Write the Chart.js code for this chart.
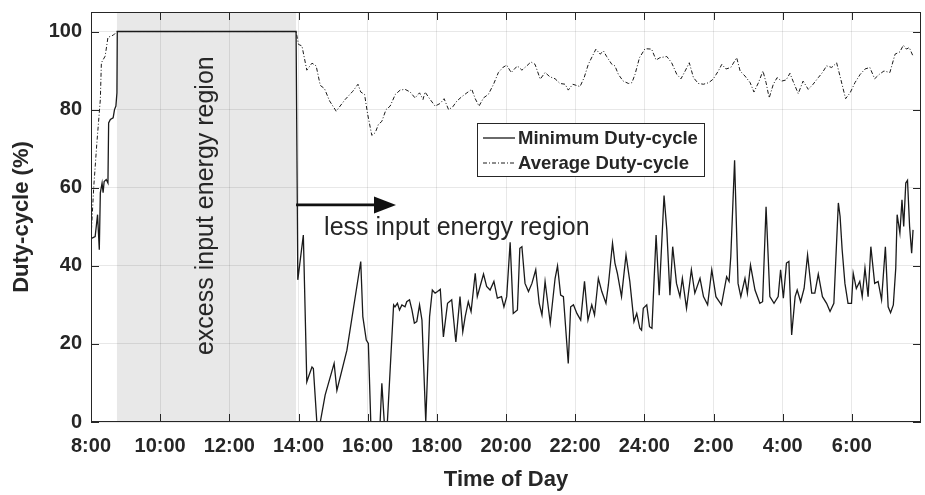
<!DOCTYPE html>
<html>
<head>
<meta charset="utf-8">
<script src="https://cdn.jsdelivr.net/npm/chart.js@4.4.1/dist/chart.umd.min.js"></script>
<style>
  html, body { margin: 0; padding: 0; background: #ffffff; }
  #wrap { width: 925px; height: 495px; }
</style>
</head>
<body>
<div id="wrap"><canvas id="c" width="925" height="495"></canvas></div>
<script>
const FONT = "'Liberation Sans', Arial, Helvetica, sans-serif";
const INK = '#262626';

// Time is given in hours after 8:00 (0 = 8:00, 24 = 8:00 next day)
const minTime = [
  0.00, 0.03, 0.12, 0.19, 0.24, 0.27, 0.32, 0.35, 0.38, 0.44, 0.49, 0.51, 0.56, 0.64, 0.68, 0.72, 0.75, 0.76,
  5.93, 5.98, 6.14, 6.24, 6.29, 6.39, 6.43, 6.53, 6.63, 6.77, 7.03, 7.11, 7.40, 7.80, 7.86, 7.96, 8.02, 8.09,
  8.36, 8.41, 8.48, 8.57, 8.75, 8.79, 8.86, 8.92, 8.99, 9.08, 9.13, 9.21, 9.28, 9.35, 9.42, 9.50, 9.57, 9.68,
  9.79, 9.87, 9.95, 10.02, 10.10, 10.19, 10.31, 10.43, 10.55, 10.67, 10.75, 10.82, 10.91, 10.99, 11.11, 11.17,
  11.25, 11.35, 11.44, 11.54, 11.65, 11.75, 11.87, 11.94, 12.02, 12.12, 12.21, 12.33, 12.40, 12.46, 12.55,
  12.65, 12.75, 12.86, 12.96, 13.04, 13.13, 13.28, 13.42, 13.49, 13.58, 13.66, 13.80, 13.87, 13.95, 14.05,
  14.16, 14.27, 14.37, 14.48, 14.56, 14.67, 14.77, 14.89, 14.96, 15.08, 15.15, 15.22, 15.34, 15.47, 15.58,
  15.70, 15.78, 15.87, 15.92, 15.97, 16.07, 16.15, 16.22, 16.34, 16.43, 16.57, 16.65, 16.74, 16.82, 16.93,
  17.03, 17.10, 17.22, 17.36, 17.46, 17.61, 17.71, 17.83, 17.95, 18.07, 18.23, 18.38, 18.45, 18.50, 18.61,
  18.71, 18.79, 18.91, 18.98, 19.07, 19.20, 19.34, 19.42, 19.52, 19.63, 19.75, 19.87, 19.94, 20.02, 20.11,
  20.18, 20.26, 20.36, 20.42, 20.52, 20.62, 20.72, 20.84, 20.93, 21.03, 21.15, 21.27, 21.37, 21.48, 21.61,
  21.66, 21.72, 21.80, 21.89, 21.99, 22.04, 22.13, 22.23, 22.30, 22.38, 22.47, 22.55, 22.66, 22.76, 22.86,
  22.97, 23.05, 23.12, 23.20, 23.27, 23.31, 23.39, 23.45, 23.50, 23.56, 23.61, 23.67, 23.73, 23.77
];
const minDuty = [
  47.0, 47.1, 47.5, 53.1, 44.1, 58.7, 61.2, 58.7, 61.6, 62.1, 61.2, 76.6, 77.5, 77.9, 80.0, 80.9, 84.3, 100,
  100, 36.4, 47.9, 10.3, 11.6, 14.1, 13.7, 0, 0, 6.9, 15.0, 8.1, 18.4, 41.1, 27.0, 21.0, 20.1, 0,
  0, 9.9, 0, 0, 30.0, 29.5, 30.4, 28.7, 30.0, 29.5, 30.8, 31.3, 28.7, 25.3, 25.7, 30.0, 26.1, 0,
  27.0, 33.8, 33.0, 33.4, 34.0, 21.8, 30.4, 31.3, 20.5, 32.1, 23.1, 27.0, 30.8, 28.3, 38.1, 32.1,
  34.7, 37.9, 34.7, 33.8, 36.0, 31.7, 32.1, 29.5, 32.1, 46.0, 27.8, 28.7, 44.5, 44.9, 35.5,
  33.4, 35.5, 39.0, 30.4, 27.4, 36.0, 25.3, 36.8, 40.0, 32.5, 32.1, 15.0, 29.5, 30.0, 27.8,
  26.1, 36.0, 26.1, 30.0, 27.4, 36.8, 33.4, 30.4, 35.1, 45.8, 40.7, 38.1, 32.1, 42.8, 36.0,
  25.7, 27.8, 24.0, 23.5, 29.1, 30.0, 24.4, 24.0, 47.9, 32.5, 58.0, 49.2, 32.5, 44.9, 35.5,
  32.1, 36.8, 29.1, 39.0, 33.0, 36.8, 32.1, 30.0, 39.0, 32.1, 30.0, 37.2, 36.0, 42.4, 67.0,
  35.5, 32.1, 36.8, 33.0, 40.2, 33.8, 30.4, 30.8, 55.1, 32.1, 30.4, 32.1, 39.0, 31.7, 40.7,
  41.1, 22.3, 32.1, 33.8, 30.8, 34.2, 42.8, 33.0, 33.0, 37.9, 32.1, 30.4, 28.3, 30.4, 56.1,
  52.7, 44.1, 35.5, 30.4, 30.4, 38.1, 34.2, 36.0, 32.1, 39.4, 32.1, 44.9, 35.5, 36.0, 31.3,
  44.9, 29.5, 28.0, 30.0, 39.4, 53.1, 48.4, 56.9, 50.1, 61.2, 61.9, 50.1, 43.2, 49.2
];

const avgTime = [
  0.00, 0.08, 0.17, 0.27, 0.30, 0.41, 0.49, 0.65, 0.75, 5.93, 6.00, 6.10, 6.24, 6.39, 6.51, 6.63, 6.75, 6.90,
  7.09, 7.35, 7.57, 7.72, 7.80, 7.91, 8.00, 8.12, 8.22, 8.31, 8.41, 8.53, 8.65, 8.80, 8.94, 9.08, 9.23, 9.37,
  9.50, 9.60, 9.66, 9.79, 9.95, 10.10, 10.21, 10.34, 10.46, 10.58, 10.72, 10.87, 11.01, 11.11, 11.22, 11.35,
  11.49, 11.64, 11.78, 11.91, 12.02, 12.15, 12.33, 12.46, 12.60, 12.72, 12.84, 12.99, 13.13, 13.27, 13.42,
  13.56, 13.71, 13.80, 13.93, 14.14, 14.26, 14.38, 14.60, 14.72, 14.82, 14.91, 15.06, 15.15, 15.25, 15.39,
  15.54, 15.64, 15.73, 15.86, 16.02, 16.21, 16.34, 16.45, 16.65, 16.79, 16.94, 17.06, 17.18, 17.30, 17.42,
  17.56, 17.71, 17.86, 17.99, 18.14, 18.24, 18.36, 18.50, 18.67, 18.77, 18.91, 19.06, 19.17, 19.30, 19.43,
  19.52, 19.61, 19.73, 19.84, 19.97, 20.10, 20.21, 20.30, 20.45, 20.59, 20.74, 20.88, 21.03, 21.15, 21.27,
  21.42, 21.56, 21.68, 21.82, 21.95, 22.09, 22.24, 22.38, 22.52, 22.66, 22.79, 22.93, 23.10, 23.25, 23.39,
  23.49, 23.58, 23.66, 23.76
];
const avgDuty = [
  47.0, 60.3, 71.5, 82.6, 92.0, 93.7, 98.5, 99.1, 100, 100, 96.7, 96.3, 90.1, 91.9, 91.2, 86.2, 85.4, 82.2,
  79.6, 82.6, 84.7, 86.5, 84.5, 83.9, 78.8, 73.4, 74.1, 76.2, 77.0, 80.0, 80.9, 83.9, 85.0, 85.2, 84.5, 83.0,
  84.3, 82.6, 84.5, 82.8, 80.9, 81.6, 82.8, 80.0, 80.7, 82.2, 83.3, 84.3, 85.2, 82.8, 80.9, 83.0,
  83.9, 86.5, 89.5, 90.8, 91.4, 89.5, 91.2, 90.1, 91.2, 92.2, 91.6, 87.8, 89.5, 88.4, 87.9,
  86.7, 86.5, 85.0, 86.5, 85.9, 88.2, 91.6, 95.5, 94.2, 95.0, 93.6, 91.6, 91.2, 89.0, 87.3,
  86.7, 86.9, 89.0, 93.3, 95.6, 95.5, 92.7, 93.3, 93.6, 92.0, 89.0, 87.9, 89.9, 92.0, 88.2,
  86.7, 86.5, 86.9, 87.8, 89.9, 91.6, 90.4, 90.8, 93.3, 89.9, 88.6, 86.9, 84.5, 86.9, 89.9,
  86.9, 83.0, 86.5, 88.2, 87.3, 87.6, 89.3, 87.3, 84.1, 87.3, 85.2, 86.5, 88.2, 89.5, 91.2,
  90.8, 92.0, 87.8, 82.8, 84.3, 86.9, 89.0, 90.4, 90.8, 87.9, 89.0, 89.9, 89.5, 94.2, 94.8,
  96.5, 95.5, 95.9, 93.9
];

const seriesLabels = ['Minimum Duty-cycle', 'Average Duty-cycle'];
const excessRegion = [0.75, 5.93];          // hours after 8:00
const excessLabel = 'excess input energy region';
const lessLabel = 'less input energy region';
const xRange = [0, 24];
const yRange = [0, 105];
const xTicks = [0, 2, 4, 6, 8, 10, 12, 14, 16, 18, 20, 22];
const yTicks = [0, 20, 40, 60, 80, 100];

function clockLabel(h) {
  let t = 8 + h;
  if (t > 24) t -= 24;
  return t + ':00';
}
function pts(xs, ys) { return xs.map((x, i) => ({ x: x, y: ys[i] })); }

// shaded band behind grid and data
const shadePlugin = {
  id: 'shade',
  beforeDraw(chart) {
    const { ctx, chartArea: a, scales: { x } } = chart;
    const x0 = x.getPixelForValue(excessRegion[0]);
    const x1 = x.getPixelForValue(excessRegion[1]);
    ctx.save();
    ctx.fillStyle = '#e8e8e8';
    ctx.fillRect(x0, a.top, x1 - x0, a.bottom - a.top);
    ctx.restore();
  }
};

// box frame with inward tick marks on all four sides
const framePlugin = {
  id: 'frame',
  afterDatasetsDraw(chart) {
    const { ctx, chartArea: a, scales: { x, y } } = chart;
    const L = 8;
    ctx.save();
    ctx.strokeStyle = INK;
    ctx.lineWidth = 1;
    ctx.beginPath();
    x.ticks.forEach(t => {
      const p = Math.round(x.getPixelForValue(t.value)) + 0.5;
      ctx.moveTo(p, a.bottom); ctx.lineTo(p, a.bottom - L);
      ctx.moveTo(p, a.top); ctx.lineTo(p, a.top + L);
    });
    y.ticks.forEach(t => {
      const p = Math.round(y.getPixelForValue(t.value)) + 0.5;
      ctx.moveTo(a.left, p); ctx.lineTo(a.left + L, p);
      ctx.moveTo(a.right, p); ctx.lineTo(a.right - L, p);
    });
    ctx.stroke();
    ctx.strokeRect(Math.round(a.left) + 0.5, Math.round(a.top) + 0.5,
                   Math.round(a.right - a.left) - 1, Math.round(a.bottom - a.top) - 1);
    ctx.restore();
  }
};

// region captions, arrow and the boxed legend
const notesPlugin = {
  id: 'notes',
  afterDraw(chart) {
    const { ctx, scales: { x, y } } = chart;
    ctx.save();
    ctx.fillStyle = INK;

    // rotated caption inside the shaded band
    const cx = (x.getPixelForValue(excessRegion[0]) + x.getPixelForValue(excessRegion[1])) / 2;
    const cy = y.getPixelForValue(55.4);
    ctx.save();
    ctx.translate(cx, cy);
    ctx.rotate(-Math.PI / 2);
    ctx.font = '25px ' + FONT;
    ctx.textAlign = 'center';
    ctx.textBaseline = 'middle';
    ctx.fillText(excessLabel, 0, 0);
    ctx.restore();

    // arrow pointing right from the end of the band
    const ax0 = x.getPixelForValue(excessRegion[1]);
    const ax1 = x.getPixelForValue(8.82);
    const ay = y.getPixelForValue(55.6);
    ctx.strokeStyle = '#111111';
    ctx.fillStyle = '#111111';
    ctx.lineWidth = 2.6;
    ctx.beginPath();
    ctx.moveTo(ax0, ay); ctx.lineTo(ax1 - 18, ay);
    ctx.stroke();
    ctx.beginPath();
    ctx.moveTo(ax1, ay);
    ctx.lineTo(ax1 - 22, ay - 8.5);
    ctx.lineTo(ax1 - 22, ay + 8.5);
    ctx.closePath();
    ctx.fill();

    ctx.fillStyle = INK;
    ctx.font = '25px ' + FONT;
    ctx.textAlign = 'left';
    ctx.textBaseline = 'alphabetic';
    ctx.fillText(lessLabel, x.getPixelForValue(6.74), y.getPixelForValue(47.9));

    // legend box
    const bx = 477, by = 123, bw = 227, bh = 53;
    ctx.fillStyle = '#ffffff';
    ctx.fillRect(bx, by, bw, bh);
    ctx.strokeStyle = INK;
    ctx.lineWidth = 1;
    ctx.strokeRect(bx + 0.5, by + 0.5, bw, bh);
    const rows = [by + 15, by + 40];
    chart.data.datasets.forEach((ds, i) => {
      ctx.strokeStyle = ds.borderColor;
      ctx.lineWidth = ds.borderWidth;
      ctx.setLineDash(ds.borderDash || []);
      ctx.beginPath();
      ctx.moveTo(bx + 6, rows[i]); ctx.lineTo(bx + 38, rows[i]);
      ctx.stroke();
      ctx.setLineDash([]);
      ctx.fillStyle = INK;
      ctx.font = 'bold 18.5px ' + FONT;
      ctx.textBaseline = 'middle';
      ctx.fillText(ds.label, bx + 41, rows[i] + 1);
    });
    ctx.restore();
  }
};

new Chart(document.getElementById('c'), {
  type: 'line',
  data: {
    datasets: [
      {
        label: seriesLabels[0],
        data: pts(minTime, minDuty),
        borderColor: '#1a1a1a',
        borderWidth: 1.3,
        pointRadius: 0,
        tension: 0,
        fill: false
      },
      {
        label: seriesLabels[1],
        data: pts(avgTime, avgDuty),
        borderColor: '#1a1a1a',
        borderWidth: 1,
        borderDash: [4, 2, 1, 2],
        pointRadius: 0,
        tension: 0,
        fill: false
      }
    ]
  },
  options: {
    responsive: false,
    animation: false,
    devicePixelRatio: 1,
    layout: { padding: { top: 12, right: 4, left: 0, bottom: 0 } },
    plugins: { legend: { display: false }, tooltip: { enabled: false } },
    scales: {
      x: {
        type: 'linear',
        min: xRange[0], max: xRange[1],
        afterFit(s) { s.height = 73; s.paddingLeft = 0; s.paddingRight = 0; },
        afterBuildTicks(s) { s.ticks = xTicks.map(v => ({ value: v })); },
        ticks: {
          padding: 12,
          color: INK,
          font: { family: FONT, size: 20, weight: 'bold' },
          maxRotation: 0,
          autoSkip: false,
          callback: v => clockLabel(v)
        },
        grid: { color: 'rgba(0,0,0,0.09)', drawTicks: false },
        border: { display: false },
        title: {
          display: true,
          text: 'Time of Day',
          color: INK,
          font: { family: FONT, size: 22, weight: 'bold' },
          padding: { top: 0, bottom: 2 }
        }
      },
      y: {
        type: 'linear',
        min: yRange[0], max: yRange[1],
        afterFit(s) { s.width = 91; s.paddingTop = 0; s.paddingBottom = 0; },
        afterBuildTicks(s) { s.ticks = yTicks.map(v => ({ value: v })); },
        ticks: {
          padding: 9,
          color: INK,
          font: { family: FONT, size: 20, weight: 'bold' }
        },
        grid: { color: 'rgba(0,0,0,0.09)', drawTicks: false },
        border: { display: false },
        title: {
          display: true,
          text: 'Duty-cycle (%)',
          color: INK,
          font: { family: FONT, size: 22, weight: 'bold' },
          padding: { top: 9, bottom: 0 }
        }
      }
    }
  },
  plugins: [shadePlugin, framePlugin, notesPlugin]
});
</script>
</body>
</html>
